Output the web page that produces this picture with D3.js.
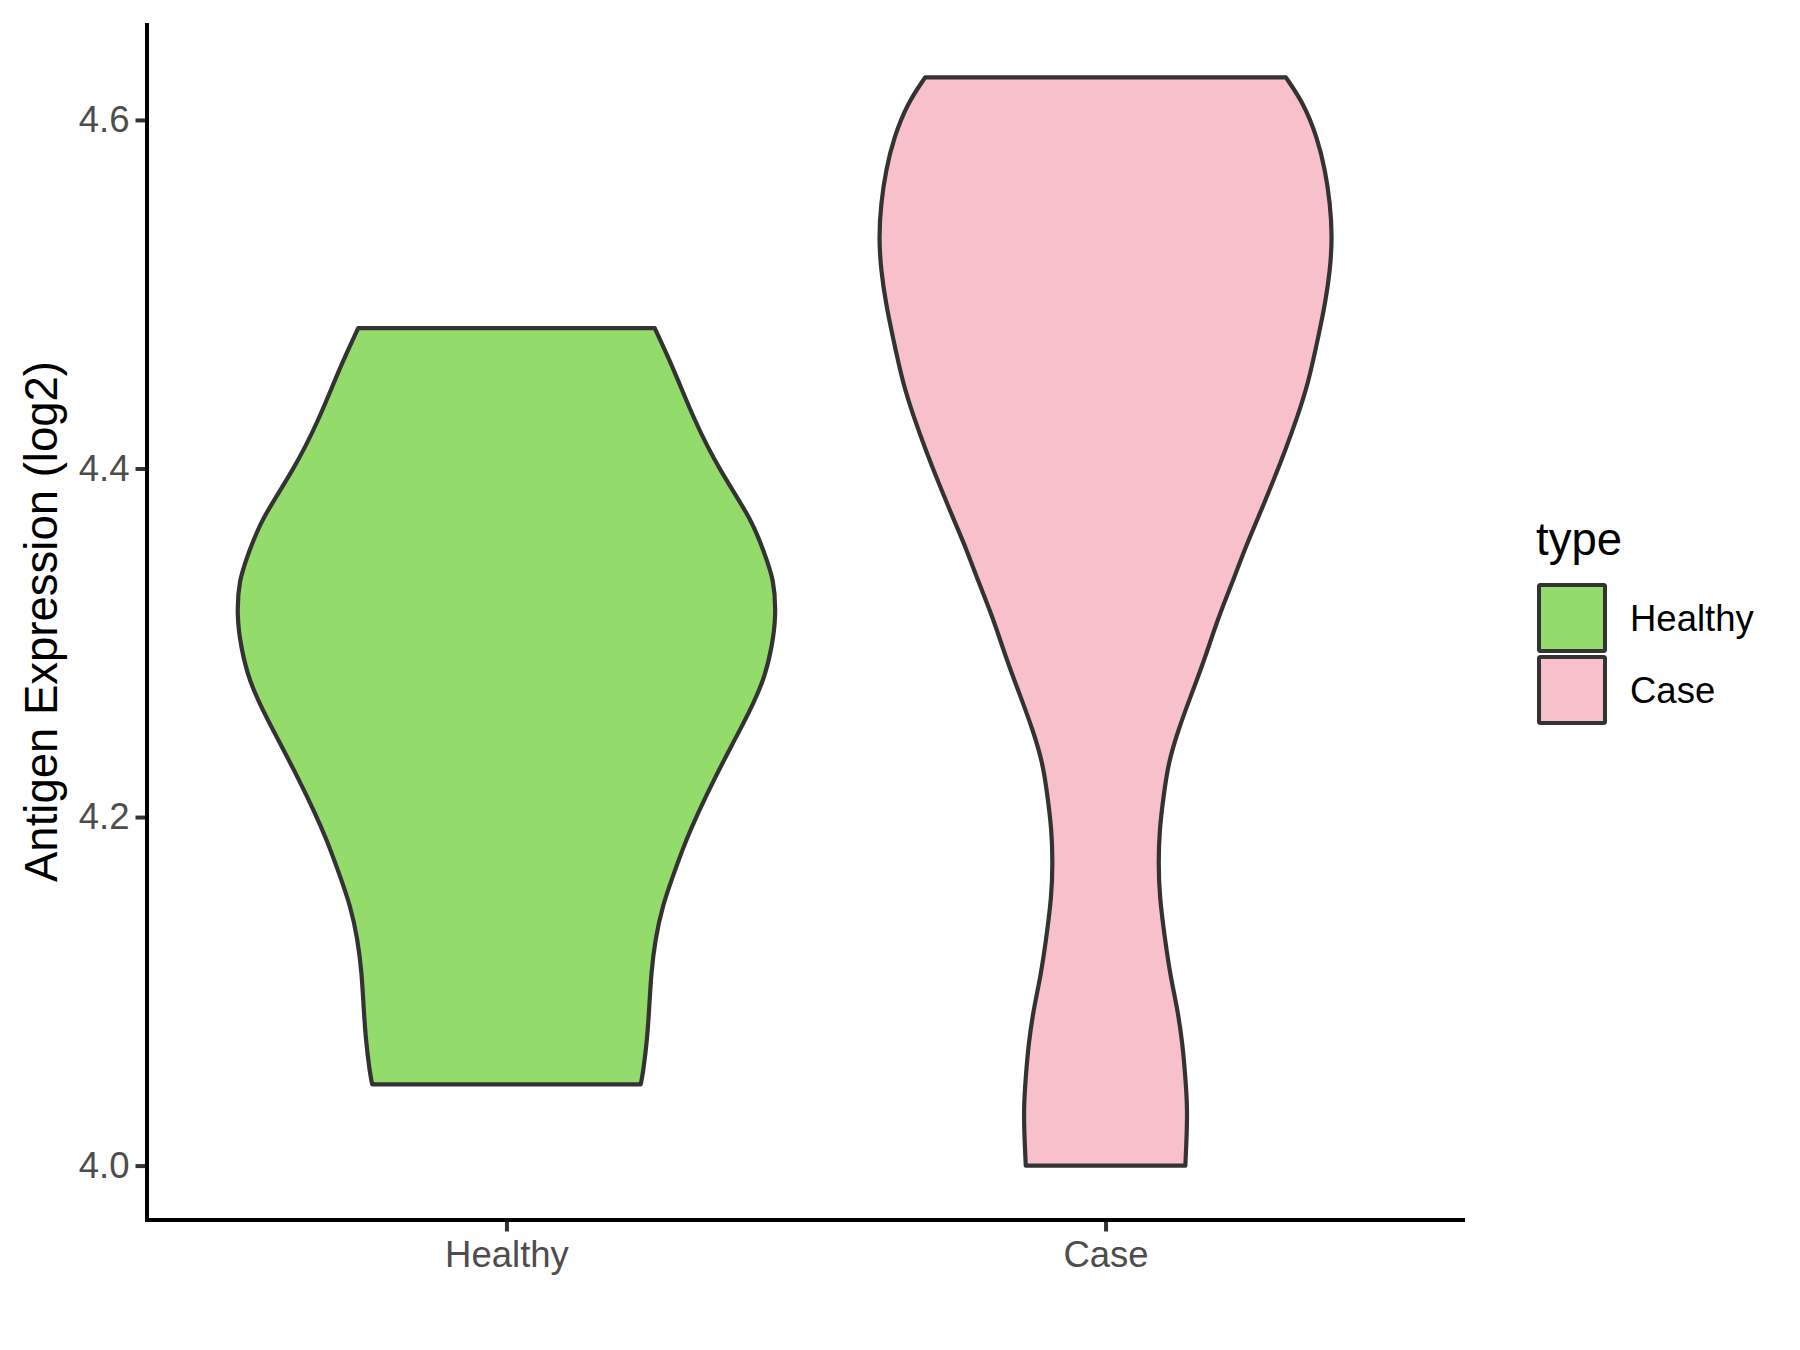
<!DOCTYPE html>
<html>
<head>
<meta charset="utf-8">
<script src="https://cdn.jsdelivr.net/npm/d3@7"></script>
<style>
  html, body { margin: 0; padding: 0; background: #ffffff; }
  svg { display: block; }
  text { font-family: "Liberation Sans", Arial, Helvetica, sans-serif; }
</style>
</head>
<body>
<svg id="chart" width="1800" height="1350"></svg>
<script>
// ---------------- data ----------------
const categories = ["Healthy", "Case"];
const fillColors = ["#93DB6B", "#F7C0CB"];
const yTickValues = [4.0, 4.2, 4.4, 4.6];
const yTickLabels = ["4.0", "4.2", "4.4", "4.6"];
const yTitle = "Antigen Expression (log2)";
const legendTitle = "type";

// Violin outlines: expression value and relative density
const healthyValues = [4.4805, 4.4565, 4.4278, 4.3992, 4.3705, 4.3516, 4.3361, 4.3149, 4.2977, 4.2788,
  4.2599, 4.2404, 4.2215, 4.2026, 4.1871, 4.1682, 4.1487, 4.1298, 4.1109, 4.0913, 4.0724, 4.0535, 4.0466];
const healthyDensity = [0.550, 0.622, 0.696, 0.789, 0.911, 0.956, 0.993, 1.000, 0.985, 0.956,
  0.900, 0.833, 0.770, 0.711, 0.667, 0.622, 0.578, 0.552, 0.537, 0.530, 0.522, 0.507, 0.498];

const caseValues = [4.6244, 4.6095, 4.5900, 4.5711, 4.5522, 4.5327, 4.5138, 4.4948, 4.4754, 4.4489,
  4.4294, 4.4105, 4.3916, 4.3721, 4.3533, 4.3343, 4.3149, 4.2885, 4.2690, 4.2501,
  4.2312, 4.2118, 4.1928, 4.1739, 4.1544, 4.1280, 4.1085, 4.0896, 4.0707, 4.0512,
  4.0323, 4.0134, 4.0000];
const caseDensity = [0.669, 0.735, 0.785, 0.815, 0.833, 0.841, 0.833, 0.815, 0.789, 0.752,
  0.711, 0.667, 0.619, 0.567, 0.515, 0.470, 0.419, 0.363, 0.315, 0.270,
  0.233, 0.215, 0.200, 0.196, 0.200, 0.222, 0.241, 0.267, 0.285, 0.296,
  0.304, 0.300, 0.296];

const seriesValues = [healthyValues, caseValues];
const seriesDensity = [healthyDensity, caseDensity];

// ---------------- layout ----------------
const panel = { left: 147, right: 1465, top: 23, bottom: 1220 };
const tickFont = 36.5, titleFont = 45.5;
const inkDark = "#333333";

const svg = d3.select("#chart");

const allVals = healthyValues.concat(caseValues);
const [vmin, vmax] = d3.extent(allVals);
const pad = (vmax - vmin) * 0.05;

const y = d3.scaleLinear().domain([vmin - pad, vmax + pad]).range([panel.bottom, panel.top]);
const x = d3.scalePoint().domain(categories).range([panel.left, panel.right]).padding(0.6);
const step = x.step();
const maxDens = d3.max(seriesDensity.flat());
const w = d3.scaleLinear().domain([0, maxDens]).range([0, 0.45 * step]);

// ---------------- violins ----------------
categories.forEach((cat, i) => {
  const pts = seriesValues[i].map((v, j) => ({ v, d: seriesDensity[i][j] }));
  const cx = x(cat);
  const area = d3.area()
    .y(p => y(p.v))
    .x0(p => cx - w(p.d))
    .x1(p => cx + w(p.d))
    .curve(d3.curveBasis);
  svg.append("path")
    .attr("d", area(pts))
    .attr("fill", fillColors[i])
    .attr("stroke", inkDark)
    .attr("stroke-width", 4.2)
    .attr("stroke-linejoin", "round");
});

// ---------------- axes ----------------
const yAxis = d3.axisLeft(y)
  .tickValues(yTickValues)
  .tickFormat((d, i) => yTickLabels[i])
  .tickSize(11.5)
  .tickPadding(6);
const gy = svg.append("g").attr("transform", `translate(${panel.left},0)`).call(yAxis);
gy.select(".domain").remove();
gy.selectAll(".tick line").attr("stroke", inkDark).attr("stroke-width", 4);
gy.selectAll(".tick text").attr("fill", "#4D4D4D").attr("font-size", tickFont)
  .attr("font-family", "'Liberation Sans', Arial, sans-serif");

const xAxis = d3.axisBottom(x).tickSize(11.5).tickPadding(10);
const gx = svg.append("g").attr("transform", `translate(0,${panel.bottom})`).call(xAxis);
gx.select(".domain").remove();
gx.selectAll(".tick line").attr("stroke", inkDark).attr("stroke-width", 4);
gx.selectAll(".tick text").attr("fill", "#4D4D4D").attr("font-size", tickFont)
  .attr("font-family", "'Liberation Sans', Arial, sans-serif");

// axis lines
svg.append("line").attr("x1", panel.left).attr("x2", panel.left)
  .attr("y1", panel.top).attr("y2", panel.bottom + 2)
  .attr("stroke", "#000").attr("stroke-width", 4);
svg.append("line").attr("x1", panel.left - 2).attr("x2", panel.right)
  .attr("y1", panel.bottom).attr("y2", panel.bottom)
  .attr("stroke", "#000").attr("stroke-width", 4);

// y title
svg.append("text")
  .attr("transform", `translate(57,${(panel.top + panel.bottom) / 2}) rotate(-90)`)
  .attr("text-anchor", "middle")
  .attr("font-size", titleFont)
  .attr("fill", "#000")
  .text(yTitle);

// ---------------- legend ----------------
const legend = svg.append("g");
legend.append("text").attr("x", 1536).attr("y", 555)
  .attr("font-size", titleFont).attr("fill", "#000").text(legendTitle);
const keyX = 1539, keyY0 = 585, keySize = 66, keyGap = 72;
categories.forEach((cat, i) => {
  legend.append("rect")
    .attr("x", keyX).attr("y", keyY0 + i * keyGap)
    .attr("width", keySize).attr("height", keySize)
    .attr("fill", fillColors[i]).attr("stroke", inkDark).attr("stroke-width", 4)
    .attr("rx", 1.5);
  legend.append("text")
    .attr("x", 1630).attr("y", keyY0 + i * keyGap + keySize / 2)
    .attr("dy", "0.36em")
    .attr("font-size", tickFont).attr("fill", "#000").text(cat);
});
</script>
</body>
</html>
